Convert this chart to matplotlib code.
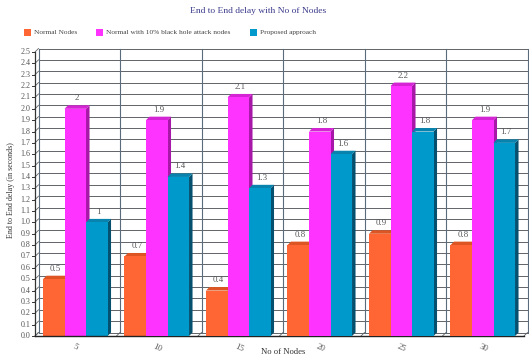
import matplotlib
matplotlib.use('Agg')
import matplotlib.pyplot as plt
from matplotlib.patches import Polygon, Rectangle

nodes = ['5', '10', '15', '20', '25', '30']
series_names = ['Normal Nodes', 'Normal with 10% black hole attack nodes', 'Proposed approach']
normal = [0.5, 0.7, 0.4, 0.8, 0.9, 0.8]
blackhole = [2, 1.9, 2.1, 1.8, 2.2, 1.9]
proposed = [1, 1.4, 1.3, 1.6, 1.8, 1.7]
y_ticks = [round(i * 0.1, 1) for i in range(26)]

front_cols = ['#FF6633', '#FF33FF', '#0099CC']
side_cols = ['#B4441A', '#A818A8', '#05506E']
top_cols = ['#DD5522', '#D424D4', '#0883AE']

W, H = 529, 360
fig = plt.figure(figsize=(W / 100, H / 100), dpi=100)
L, R, B, T = 35, 524, 336, 52
ax = fig.add_axes([L / W, 1 - B / H, (R - L) / W, (B - T) / H])
ncat = len(nodes)
ax.set_xlim(0, ncat)
ax.set_ylim(0, 2.5)
ax.axis('off')
px_x = ncat / (R - L)
px_y = 2.5 / (B - T)
ddx = 3.5 * px_x
ddy = 3.5 * px_y

grid_c = '#606468'
vgrid_c = '#5a6b7c'
# back wall grid
for y in y_ticks:
    ax.plot([ddx, ncat + ddx], [y + ddy, y + ddy], color=grid_c, lw=0.7, clip_on=False, zorder=1)
    ax.plot([0, ddx], [y, y + ddy], color=grid_c, lw=0.6, clip_on=False, zorder=1)
    ax.plot([-3 * px_x, 0], [y, y], color='#333333', lw=0.7, clip_on=False, zorder=1)
    ax.text(-4.5 * px_x, y, f'{y:.1f}', ha='right', va='center', fontsize=5.8,
            family='Liberation Serif', color='#555555', clip_on=False)
for k in range(ncat + 1):
    ax.plot([k + ddx, k + ddx], [ddy, 2.5 + ddy], color=vgrid_c, lw=0.8, clip_on=False, zorder=1)
    ax.plot([k, k + ddx], [0, ddy], color=grid_c, lw=0.6, clip_on=False, zorder=1)
# front axes
ax.plot([0, 0], [0, 2.5], color='#333333', lw=0.9, clip_on=False, zorder=1)
ax.plot([0, ncat], [0, 0], color='#222222', lw=1.0, clip_on=False, zorder=10)

data = [normal, blackhole, proposed]
w = 0.264
off = 0.098
z = 2
for i in range(ncat):
    for j in range(3):
        v = data[j][i]
        x0 = i + off + j * w
        ax.add_patch(Polygon([(x0 + w, 0), (x0 + w + ddx, ddy), (x0 + w + ddx, v + ddy), (x0 + w, v)],
                             closed=True, fc=side_cols[j], ec='none', zorder=z, clip_on=False))
        ax.add_patch(Polygon([(x0, v), (x0 + ddx, v + ddy), (x0 + w + ddx, v + ddy), (x0 + w, v)],
                             closed=True, fc=top_cols[j], ec='none', zorder=z, clip_on=False))
        ax.add_patch(Rectangle((x0, 0), w, v, fc=front_cols[j], ec='none', zorder=z + 1, clip_on=False))
        z += 2
        ax.text(x0 + w / 2 + ddx / 2, v + ddy + 3 * px_y, f'{v:g}', ha='center', va='bottom',
                fontsize=6.3, family='Liberation Serif', color='#555555', zorder=50)
    ax.text(i + 0.5, -7 * px_y, nodes[i], ha='center', va='top', fontsize=6.3, rotation=-25,
            family='Liberation Serif', color='#555555', clip_on=False)

fig.text(258 / W, 1 - 11 / H, 'End to End delay with No of Nodes', ha='center', va='center',
         fontsize=6.8, family='Liberation Serif', color='#3a3a8c')
fig.text(11 / W, 1 - 190 / H, 'End to End delay (in seconds)', ha='center', va='center',
         rotation=90, fontsize=5.8, family='Liberation Serif', color='#333333')
fig.text(283 / W, 1 - 352 / H, 'No of Nodes', ha='center', va='center',
         fontsize=6.2, family='Liberation Serif', color='#333333')

leg_x = [24, 96, 250]
for j in range(3):
    fig.patches.append(Rectangle((leg_x[j] / W, 1 - 36 / H), 7 / W, 7 / H, fc=front_cols[j], ec='none',
                                 transform=fig.transFigure, figure=fig))
    fig.text((leg_x[j] + 10) / W, 1 - 32.5 / H, series_names[j], ha='left', va='center',
             fontsize=5.3, family='Liberation Serif', color='#444444')

fig.savefig('out.png', dpi=100)
